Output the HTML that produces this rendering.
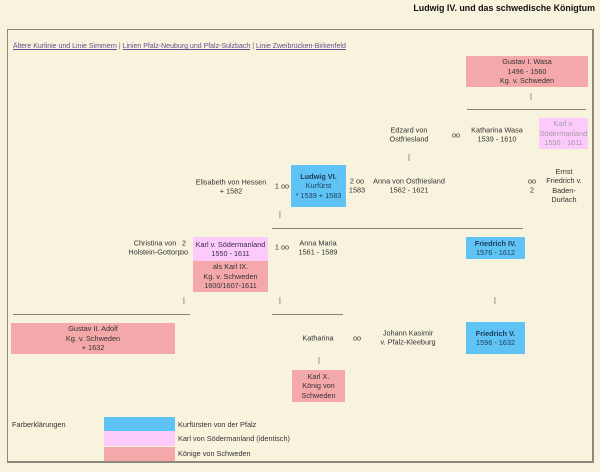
<!DOCTYPE html>
<html>
<head>
<meta charset="utf-8">
<style>
html,body{margin:0;padding:0;}
body{width:600px;height:472px;background:#f8f3dd;position:relative;overflow:hidden;
font-family:"Liberation Sans",Arial,sans-serif;font-size:7.3px;line-height:9.4px;color:#333;}
.t{position:absolute;transform:translate(-50%,-50%);text-align:center;white-space:nowrap;}
.b{position:absolute;display:flex;flex-direction:column;justify-content:center;align-items:center;text-align:center;white-space:nowrap;}
.blue{background:#5fc4f5;color:#1d3a58;}
.pink{background:#fdcbfb;}
.red{background:#f5a8aa;}
.ln{position:absolute;height:1.5px;background:#85847c;}
.bar{position:absolute;transform:translate(-50%,-50%);color:#555;}
a{color:#6a4b92;text-decoration:underline;}
</style>
</head>
<body>
<div style="position:absolute;right:5px;top:3px;font-weight:bold;font-size:8.9px;line-height:11px;color:#111;">Ludwig IV. und das schwedische Königtum</div>

<div style="position:absolute;left:7px;top:29px;width:584px;height:431px;border:1px solid #8e897f;border-right-width:2px;border-bottom-width:2px;"></div>

<div style="position:absolute;left:13px;top:42px;white-space:nowrap;color:#666;font-size:7px;"><a>Ältere Kurlinie und Linie Simmern</a> | <a>Linien Pfalz-Neuburg und Pfalz-Sulzbach</a> | <a>Linie Zweibrücken-Birkenfeld</a></div>

<!-- top generation -->
<div class="b red" style="left:466px;top:56px;width:122px;height:31px;">Gustav I. Wasa<br>1496 - 1560<br>Kg. v. Schweden</div>
<div class="bar" style="left:531px;top:96px;">|</div>
<div class="ln" style="left:467px;top:108.5px;width:119px;"></div>

<div class="t" style="left:409px;top:134.5px;">Edzard von<br>Ostfriesland</div>
<div class="t" style="left:456px;top:134.5px;">oo</div>
<div class="t" style="left:497px;top:134.5px;">Katharina Wasa<br>1539 - 1610</div>
<div class="b pink" style="left:539px;top:118px;width:49px;height:31px;color:#a39aa8;">Karl v.<br>Södermanland<br>1550 - 1611</div>
<div class="bar" style="left:409px;top:157px;">|</div>

<!-- Ludwig row -->
<div class="t" style="left:231px;top:186.5px;">Elisabeth von Hessen<br>+ 1582</div>
<div class="t" style="left:282px;top:186px;">1 oo</div>
<div class="b blue" style="left:291px;top:165px;width:55px;height:42px;"><b>Ludwig VI.</b>Kurfürst<br>* 1539 + 1583</div>
<div class="t" style="left:357px;top:186px;">2 oo<br>1583</div>
<div class="t" style="left:409px;top:186px;">Anna von Ostfriesland<br>1562 - 1621</div>
<div class="t" style="left:532px;top:186px;">oo<br>2</div>
<div class="t" style="left:564px;top:186px;">Ernst<br>Friedrich v.<br>Baden-<br>Durlach</div>
<div class="bar" style="left:280px;top:214px;">|</div>
<div class="ln" style="left:272px;top:227.5px;width:251px;"></div>

<!-- next row -->
<div class="t" style="left:155px;top:248px;">Christina von<br>Holstein-Gottorp</div>
<div class="t" style="left:184px;top:248px;">2<br>oo</div>
<div class="b pink" style="left:193px;top:237px;width:75px;height:24px;color:#3a2a4a;">Karl v. Södermanland<br>1550 - 1611</div>
<div class="b red" style="left:193px;top:261px;width:75px;height:31px;">als Karl IX.<br>Kg. v. Schweden<br>1600/1607-1611</div>
<div class="t" style="left:282px;top:247px;">1 oo</div>
<div class="t" style="left:318px;top:248px;">Anna Maria<br>1561 - 1589</div>
<div class="b blue" style="left:466px;top:237px;width:59px;height:22px;"><b>Friedrich IV.</b>1576 - 1612</div>

<div class="bar" style="left:184px;top:300px;">|</div>
<div class="bar" style="left:280px;top:300px;">|</div>
<div class="bar" style="left:495px;top:300px;">|</div>
<div class="ln" style="left:13px;top:313.5px;width:177px;"></div>
<div class="ln" style="left:272px;top:313.5px;width:71px;"></div>

<div class="b red" style="left:11px;top:323px;width:164px;height:31px;">Gustav II. Adolf<br>Kg. v. Schweden<br>+ 1632</div>
<div class="t" style="left:318px;top:338px;">Katharina</div>
<div class="t" style="left:357px;top:338px;">oo</div>
<div class="t" style="left:408px;top:338px;">Johann Kasimir<br>v. Pfalz-Kleeburg</div>
<div class="b blue" style="left:466px;top:322px;width:59px;height:32px;"><b>Friedrich V.</b>1596 - 1632</div>
<div class="bar" style="left:319px;top:360px;">|</div>
<div class="b red" style="left:292px;top:370px;width:53px;height:32px;">Karl X.<br>König von<br>Schweden</div>

<!-- legend -->
<div style="position:absolute;left:12px;top:419.5px;white-space:nowrap;">Farberklärungen</div>
<div style="position:absolute;left:104px;top:417px;width:71px;height:14px;background:#5fc4f5;"></div>
<div style="position:absolute;left:104px;top:431px;width:71px;height:15px;background:#fdcbfb;"></div>
<div style="position:absolute;left:104px;top:447px;width:71px;height:14px;background:#f5a8aa;"></div>
<div style="position:absolute;left:178px;top:419.5px;white-space:nowrap;">Kurfürsten von der Pfalz</div>
<div style="position:absolute;left:178px;top:434px;white-space:nowrap;">Karl von Södermanland (identisch)</div>
<div style="position:absolute;left:178px;top:449px;white-space:nowrap;">Könige von Schweden</div>
</body>
</html>
